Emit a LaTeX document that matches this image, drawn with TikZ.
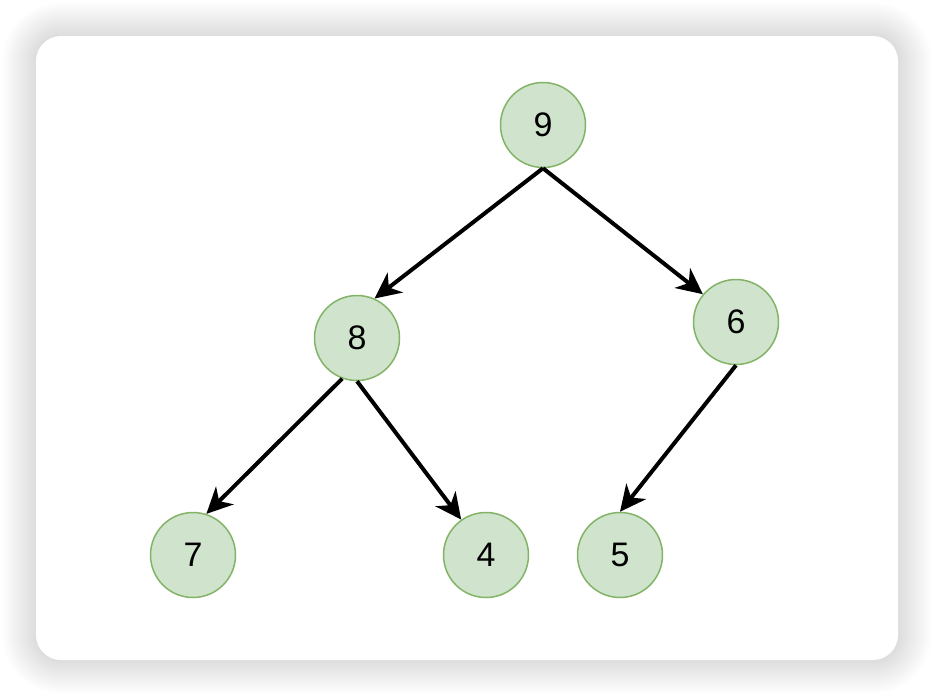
\documentclass[tikz,border=0pt]{standalone}
\usepackage{fontspec}
\setmainfont{Liberation Sans}
\usetikzlibrary{arrows.meta}
\definecolor{nodofill}{HTML}{D0E4CD}
\definecolor{nodoborde}{HTML}{82B366}

\begin{document}
\begin{tikzpicture}[
  x=1pt, y=-1pt,
  every node/.style={circle, fill=nodofill, draw=nodoborde, line width=1.5pt, inner sep=0pt, minimum size=85pt, font=\fontsize{34}{38}\selectfont},
  flecha/.style={line width=4pt, -{Stealth[length=26pt, width=25pt, inset=8pt]}}
]
  \useasboundingbox (0,0) rectangle (934,696);

  % Sombra y tarjeta de fondo
  \foreach \i in {1,...,34}
    \fill[black, opacity=0.0042, rounded corners=25+\i] (36-\i,36-\i) rectangle (898+\i,660+\i);
  \fill[white, rounded corners=25] (36,36) rectangle (898,660);

  % Vértices del árbol
  \node (n9) at (543,125) {9};
  \node (n8) at (357,338) {8};
  \node (n6) at (736,322) {6};
  \node (n7) at (193,555) {7};
  \node (n4) at (486,555) {4};
  \node (n5) at (620,555) {5};

  % Aristas desde la raíz
  \draw[flecha] (n9.south) -- (n8.66);
  \draw[flecha] (n9.south) -- (n6.140);

  % Aristas hacia las hojas
  \draw[flecha] (n8.250) -- (n7.72);
  \draw[flecha] (n8.south) -- (n4.125);
  \draw[flecha] (n6.south) -- (n5.north);

\end{tikzpicture}
\end{document}
